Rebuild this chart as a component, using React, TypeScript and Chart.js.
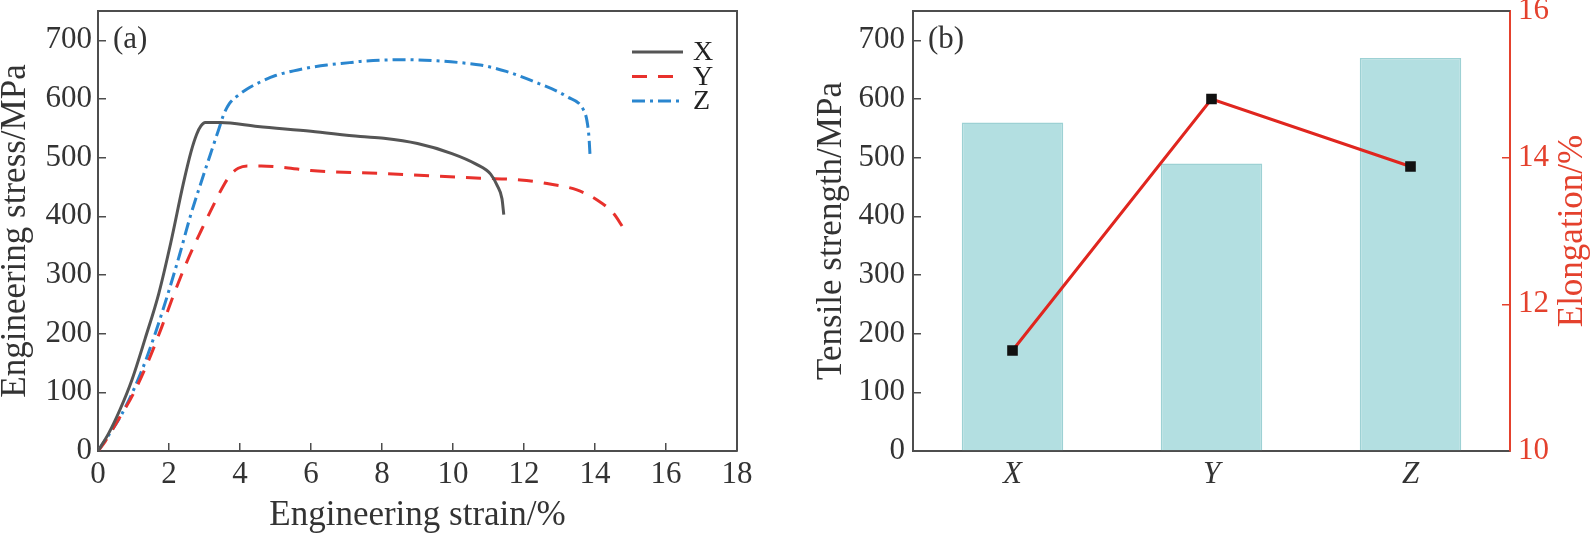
import React, { useEffect, useRef } from "react";
import { Chart, registerables } from "chart.js";

Chart.register(...registerables);

const FONT = "'Liberation Serif', 'Times New Roman', serif";

// ---- Panel (a): engineering stress-strain curves ----
const strainX = [0, 0.3, 0.63, 0.96, 1.33, 1.71, 2.05, 2.4, 2.62, 2.78, 2.9, 3.02, 3.45, 4.5, 6.0, 7.39, 8.05, 9.0, 9.97, 10.65, 11.06, 11.25, 11.38, 11.43];
const stressX = [0, 30, 72, 122, 192, 268, 355, 455, 510, 540, 554, 560, 560, 553, 545, 536, 533, 524, 507, 489, 472, 452, 430, 403];

const strainY = [0, 0.2, 0.5, 1.0, 1.43, 1.8, 2.13, 2.5, 2.9, 3.26, 3.55, 3.75, 3.95, 4.2, 4.6, 5.3, 6.0, 8.05, 10.1, 10.77, 11.9, 12.65, 13.49, 14.06, 14.52, 14.8];
const stressY = [0, 16, 46, 98, 155, 212, 266, 322, 375, 420, 454, 472, 482, 486, 486, 483, 478, 473, 467, 465, 462, 456, 445, 428, 405, 380];

const strainZ = [0, 0.11, 0.68, 1.24, 1.61, 1.94, 2.3, 2.6, 2.97, 3.2, 3.4, 3.55, 3.7, 3.9, 4.2, 4.57, 5.0, 5.51, 6.0, 6.45, 7.09, 7.39, 8.6, 9.55, 10.37, 10.77, 11.5, 12.18, 13.21, 13.68, 13.77, 13.83, 13.86];
const stressZ = [0, 10, 64, 138, 200, 262, 335, 400, 470, 512, 548, 575, 592, 604, 617, 629, 640, 648, 654, 658, 662, 664, 667, 665, 661, 658, 647, 632, 604, 581, 564, 535, 504];

const seriesLabels = ["X", "Y", "Z"];
const strainMin = 0;
const strainMax = 18;
const strainStep = 2;
const stressMin = 0;
const stressMax = 750;
const stressStep = 100;

// ---- Panel (b): tensile strength and elongation ----
const categories = ["X", "Y", "Z"];
const tensileStrength = [560, 490, 670];
const elongation = [11.37, 14.8, 13.88];
const elongMin = 10;
const elongMax = 16;
const elongStep = 2;

const TEXT = "#333333";
const AXIS = "#4d4d4d";
const RED_AXIS = "#e4412d";

const framePlugin = {
  id: "frame",
  afterDatasetsDraw(chart: any, _a: any, opts: any) {
    if (!opts || !opts.color) return;
    const { ctx, chartArea } = chart;
    const { left, right, top, bottom } = chartArea;
    ctx.save();
    ctx.strokeStyle = opts.color;
    ctx.lineWidth = opts.width || 2;
    ctx.beginPath();
    ctx.moveTo(left, top);
    ctx.lineTo(right, top);
    if (opts.right) ctx.lineTo(right, bottom);
    ctx.stroke();
    ctx.restore();
  },
};

const panelLabelPlugin = {
  id: "panelLabel",
  afterDraw(chart: any, _a: any, opts: any) {
    if (!opts || !opts.text) return;
    const { ctx, chartArea } = chart;
    ctx.save();
    ctx.font = `${opts.size}px ${FONT}`;
    ctx.fillStyle = TEXT;
    ctx.textAlign = "left";
    ctx.textBaseline = "middle";
    ctx.fillText(opts.text, chartArea.left + opts.dx, chartArea.top + opts.dy);
    ctx.restore();
  },
};

const insideLegendPlugin = {
  id: "insideLegend",
  afterDraw(chart: any, _a: any, opts: any) {
    if (!opts || !opts.show) return;
    const { ctx, chartArea } = chart;
    ctx.save();
    chart.data.datasets.forEach((ds: any, i: number) => {
      const y = chartArea.top + opts.top + i * opts.rowHeight;
      const x0 = chartArea.right - opts.lineStart;
      const x1 = chartArea.right - opts.lineEnd;
      ctx.strokeStyle = ds.borderColor;
      ctx.lineWidth = ds.borderWidth;
      ctx.setLineDash(ds.borderDash || []);
      ctx.beginPath();
      ctx.moveTo(x0, y);
      ctx.lineTo(x1, y);
      ctx.stroke();
      ctx.setLineDash([]);
      ctx.font = `${opts.size}px ${FONT}`;
      ctx.fillStyle = "#222";
      ctx.textAlign = "left";
      ctx.textBaseline = "middle";
      ctx.fillText(ds.label, chartArea.right - opts.textStart, y + 1);
    });
    ctx.restore();
  },
};

const sideTitlePlugin = {
  id: "sideTitle",
  afterDraw(chart: any, _a: any, opts: any) {
    if (!opts || !opts.text) return;
    const { ctx, chartArea } = chart;
    ctx.save();
    ctx.translate(chart.width - opts.offset, (chartArea.top + chartArea.bottom) / 2);
    ctx.rotate(-Math.PI / 2);
    ctx.font = `${opts.size}px ${FONT}`;
    ctx.fillStyle = opts.color;
    ctx.textAlign = "center";
    ctx.textBaseline = "middle";
    ctx.fillText(opts.text, 0, 0);
    ctx.restore();
  },
};

const lineSeries = (label: string, xs: number[], ys: number[], color: string, dash: number[]) => ({
  label,
  data: xs.map((x, i) => ({ x, y: ys[i] })),
  borderColor: color,
  backgroundColor: color,
  borderWidth: 3,
  borderDash: dash,
  pointRadius: 0,
  showLine: true,
  fill: false,
  cubicInterpolationMode: "monotone" as const,
});

function StressStrain() {
  const ref = useRef<HTMLCanvasElement | null>(null);
  useEffect(() => {
    if (!ref.current) return;
    const chart = new Chart(ref.current, {
      type: "scatter",
      data: {
        datasets: [
          lineSeries(seriesLabels[0], strainX, stressX, "#555555", []),
          lineSeries(seriesLabels[1], strainY, stressY, "#e8312c", [15, 11]),
          lineSeries(seriesLabels[2], strainZ, stressZ, "#2a86cf", [13, 5, 3, 5]),
        ],
      },
      plugins: [framePlugin, panelLabelPlugin, insideLegendPlugin],
      options: {
        responsive: false,
        animation: false,
        devicePixelRatio: 1,
        layout: { padding: { top: 11, right: 53, left: 0, bottom: 0 } },
        plugins: {
          legend: { display: false },
          tooltip: { enabled: false },
          frame: { color: AXIS, width: 2, right: true },
          panelLabel: { text: "(a)", size: 31, dx: 15, dy: 29 },
          insideLegend: { show: true, top: 41, rowHeight: 24.5, lineStart: 105, lineEnd: 54, textStart: 44, size: 28 },
        } as any,
        scales: {
          x: {
            type: "linear",
            min: strainMin,
            max: strainMax,
            ticks: { stepSize: strainStep, color: TEXT, padding: 13, font: { family: FONT, size: 31 } },
            grid: { drawOnChartArea: false, drawTicks: true, tickLength: -8, color: AXIS, lineWidth: 1.5 },
            border: { display: true, color: AXIS, width: 2 },
            title: {
              display: true,
              text: "Engineering strain/%",
              color: TEXT,
              font: { family: FONT, size: 35, lineHeight: 1 },
              padding: { top: 0, bottom: 2 },
            },
            afterFit: (s: any) => {
              s.height = 84;
              s.paddingLeft = 0;
              s.paddingRight = 0;
            },
          },
          y: {
            type: "linear",
            min: stressMin,
            max: stressMax,
            ticks: { stepSize: stressStep, includeBounds: false, color: TEXT, padding: 14, font: { family: FONT, size: 31 } },
            grid: { drawOnChartArea: false, drawTicks: true, tickLength: -8, color: AXIS, lineWidth: 1.5 },
            border: { display: true, color: AXIS, width: 2 },
            title: {
              display: true,
              text: "Engineering stress/MPa",
              color: TEXT,
              font: { family: FONT, size: 35, lineHeight: 0.9 },
              padding: { top: 0, bottom: 0 },
            },
            afterFit: (s: any) => {
              s.width = 98;
              s.paddingTop = 0;
              s.paddingBottom = 0;
            },
          },
        },
      } as any,
    });
    return () => chart.destroy();
  }, []);
  return (
    <canvas
      ref={ref}
      width={790}
      height={535}
      style={{ position: "absolute", left: 0, top: 0, width: 790, height: 535 }}
    />
  );
}

function StrengthElongation() {
  const ref = useRef<HTMLCanvasElement | null>(null);
  useEffect(() => {
    if (!ref.current) return;
    const chart = new Chart(ref.current, {
      type: "bar",
      data: {
        labels: categories,
        datasets: [
          {
            type: "line",
            label: "Elongation/%",
            data: elongation,
            yAxisID: "y1",
            borderColor: "#e0261f",
            borderWidth: 3,
            pointStyle: "rect",
            pointRadius: 7.5,
            pointBackgroundColor: "#111111",
            pointBorderColor: "#111111",
            pointBorderWidth: 0,
            tension: 0,
            order: 0,
          },
          {
            type: "bar",
            label: "Tensile strength/MPa",
            data: tensileStrength,
            yAxisID: "y",
            backgroundColor: "#b3dfe1",
            borderColor: "#9dd1d4",
            borderWidth: 1.5,
            barPercentage: 0.51,
            categoryPercentage: 1,
            order: 1,
          },
        ],
      } as any,
      plugins: [framePlugin, panelLabelPlugin, sideTitlePlugin],
      options: {
        responsive: false,
        animation: false,
        devicePixelRatio: 1,
        layout: { padding: { top: 11, right: 0, left: 0, bottom: 0 } },
        plugins: {
          legend: { display: false },
          tooltip: { enabled: false },
          frame: { color: AXIS, width: 2, right: false },
          panelLabel: { text: "(b)", size: 31, dx: 15, dy: 29 },
          sideTitle: { text: "Elongation/%", size: 35, color: RED_AXIS, offset: 18 },
        } as any,
        scales: {
          x: {
            type: "category",
            offset: true,
            ticks: { color: TEXT, padding: 13, font: { family: FONT, size: 31, style: "italic" } },
            grid: { offset: false, drawOnChartArea: false, drawTicks: true, tickLength: -8, color: AXIS, lineWidth: 1.5 },
            border: { display: true, color: AXIS, width: 2 },
            afterFit: (s: any) => {
              s.height = 84;
              s.paddingLeft = 0;
              s.paddingRight = 0;
            },
          },
          y: {
            type: "linear",
            position: "left",
            min: stressMin,
            max: stressMax,
            ticks: { stepSize: stressStep, includeBounds: false, color: TEXT, padding: 16, font: { family: FONT, size: 31 } },
            grid: { drawOnChartArea: false, drawTicks: true, tickLength: -8, color: AXIS, lineWidth: 1.5 },
            border: { display: true, color: AXIS, width: 2 },
            title: {
              display: true,
              text: "Tensile strength/MPa",
              color: TEXT,
              font: { family: FONT, size: 35, lineHeight: 1 },
              padding: { top: 24, bottom: 0 },
            },
            afterFit: (s: any) => {
              s.width = 123;
              s.paddingTop = 0;
              s.paddingBottom = 0;
            },
          },
          y1: {
            type: "linear",
            position: "right",
            min: elongMin,
            max: elongMax,
            ticks: { stepSize: elongStep, color: RED_AXIS, padding: 16, font: { family: FONT, size: 31 } },
            grid: { drawOnChartArea: false, drawTicks: true, tickLength: -8, color: RED_AXIS, lineWidth: 1.5 },
            border: { display: true, color: RED_AXIS, width: 2 },
            afterFit: (s: any) => {
              s.width = 81;
              s.paddingTop = 0;
              s.paddingBottom = 0;
            },
          },
        },
      } as any,
    });
    return () => chart.destroy();
  }, []);
  return (
    <canvas
      ref={ref}
      width={801}
      height={535}
      style={{ position: "absolute", left: 790, top: 0, width: 801, height: 535 }}
    />
  );
}

export default function App() {
  return (
    <div style={{ position: "absolute", left: 0, top: 0, width: 1591, height: 535, background: "#ffffff" }}>
      <StressStrain />
      <StrengthElongation />
    </div>
  );
}
